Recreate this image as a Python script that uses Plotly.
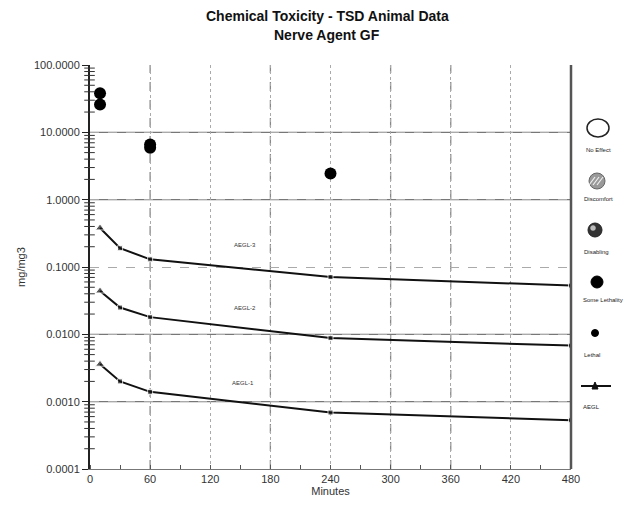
import math
import plotly.graph_objects as go

# ---- data ----
aegl_minutes = [10, 30, 60, 240, 480]
aegl3 = [0.38, 0.19, 0.13, 0.071, 0.053]
aegl2 = [0.044, 0.025, 0.018, 0.0088, 0.0068]
aegl1 = [0.0036, 0.0020, 0.0014, 0.00069, 0.00053]

lethality_minutes = [10, 10, 60, 60, 240]
lethality_values = [38, 26, 6.6, 5.9, 2.45]

aegl_labels = ["AEGL-3", "AEGL-2", "AEGL-1"]
aegl_label_x = [155, 155, 153]
aegl_label_y = [0.21, 0.025, 0.0019]

x_ticks = [0, 60, 120, 180, 240, 300, 360, 420, 480]
y_ticks = [0.0001, 0.001, 0.01, 0.1, 1, 10, 100]
y_tick_text = ["0.0001", "0.0010", "0.0100", "0.1000", "1.0000", "10.0000", "100.0000"]
y_minor = [m * 10 ** e for e in range(-4, 2) for m in range(2, 10)]

legend_labels = ["No Effect", "Discomfort", "Disabling", "Some Lethality", "Lethal", "AEGL"]

# ---- figure ----
W, H = 637, 515
L, R, T, B = 90, 66, 65, 46
PW, PH = W - L - R, H - T - B

def px(xp):
    return (xp - L) / PW

def py(yp):
    return (H - B - yp) / PH

fig = go.Figure()

for vals in [aegl3, aegl2, aegl1]:
    fig.add_trace(go.Scatter(
        x=aegl_minutes, y=vals, mode="lines+markers",
        line=dict(color="#111", width=2),
        marker=dict(symbol=["triangle-up", "square", "square", "square", "square"],
                    size=[8, 5, 5, 5, 5], color="#111"),
        showlegend=False, hoverinfo="x+y"))

fig.add_trace(go.Scatter(
    x=lethality_minutes, y=lethality_values, mode="markers",
    marker=dict(symbol="circle", size=12, color="#000"),
    showlegend=False))

annotations = []
for lab, lx, ly in zip(aegl_labels, aegl_label_x, aegl_label_y):
    annotations.append(dict(x=lx, y=math.log10(ly), xref="x", yref="y",
                            text=lab, showarrow=False,
                            font=dict(size=6, color="#333", family="Liberation Sans")))

# title as two centered lines
for txt, yy in [("Chemical Toxicity - TSD Animal Data", 16), ("Nerve Agent GF", 35)]:
    annotations.append(dict(x=px(327), y=py(yy), xref="paper", yref="paper", text=f"<b>{txt}</b>",
                            showarrow=False, xanchor="center", yanchor="middle",
                            font=dict(size=14, color="#111",
                                      family="Liberation Sans Narrow, Arial Narrow, Liberation Sans")))

shapes = []
# extra dashed/solid gridlines to mimic the scanned chart
for xv in [60, 180, 300, 360]:
    shapes.append(dict(type="line", xref="x", yref="paper", x0=xv, x1=xv, y0=0, y1=1,
                       line=dict(color="#888", width=1.3, dash="dash"), layer="below"))
for yv in [10, 1, 0.01, 0.001]:
    shapes.append(dict(type="line", xref="paper", yref="y", x0=0, x1=1,
                       y0=yv, y1=yv,
                       line=dict(color="#777", width=1.3), layer="below"))
# minor ticks across the y axis
for mv in y_minor:
    shapes.append(dict(type="line", xref="paper", yref="y", x0=-0.012, x1=0.01,
                       y0=mv, y1=mv,
                       line=dict(color="#333", width=1)))
# right border
shapes.append(dict(type="line", xref="paper", yref="paper", x0=1, x1=1, y0=0, y1=1,
                   line=dict(color="#555", width=2.5)))

# ---- custom legend (right side) ----
def circle(cx, cy, rx, ry, fill, line_color="#222", lw=1.5):
    shapes.append(dict(type="circle", xref="paper", yref="paper",
                       x0=px(cx - rx), x1=px(cx + rx), y0=py(cy + ry), y1=py(cy - ry),
                       fillcolor=fill, line=dict(color=line_color, width=lw)))

circle(598, 128, 11, 9, "rgba(0,0,0,0)", "#222", 1.5)
circle(597, 181, 8, 8, "#999", "#666", 1)
for d in [-4, 0, 4]:
    shapes.append(dict(type="line", xref="paper", yref="paper",
                       x0=px(597 - 4 + d), x1=px(597 + 2 + d), y0=py(185), y1=py(177),
                       line=dict(color="#eee", width=1.2)))
circle(595, 230, 7, 7, "#333", "#222", 1)
circle(593, 228, 2.5, 2.5, "#bbb", "#bbb", 0.5)
circle(597, 282, 6, 6, "#000", "#000", 1)
circle(595, 333, 3.5, 3.5, "#000", "#000", 1)
shapes.append(dict(type="line", xref="paper", yref="paper",
                   x0=px(581), x1=px(611), y0=py(386), y1=py(386),
                   line=dict(color="#111", width=2)))
shapes.append(dict(type="path", xref="paper", yref="paper",
                   path=f"M {px(592)} {py(389)} L {px(598)} {py(389)} L {px(595)} {py(382)} Z",
                   fillcolor="#111", line=dict(color="#111", width=1)))

legend_label_y = [150, 199, 252, 300, 355, 407]
legend_label_x = [598, 598, 596, 603, 592, 591]
for lab, lx, ly in zip(legend_labels, legend_label_x, legend_label_y):
    annotations.append(dict(x=px(lx), y=py(ly), xref="paper", yref="paper", text=lab,
                            showarrow=False, xanchor="center", yanchor="middle",
                            font=dict(size=6, color="#222", family="Liberation Sans")))

fig.update_layout(
    width=W, height=H,
    margin=dict(l=L, r=R, t=T, b=B),
    paper_bgcolor="white", plot_bgcolor="white",
    font=dict(family="Liberation Sans", color="#333", size=11),
    xaxis=dict(range=[0, 480], tickvals=x_ticks, ticktext=[str(v) for v in x_ticks],
               showgrid=True, gridcolor="#aaa", griddash="dot", gridwidth=1,
               showline=True, linecolor="#777", linewidth=1,
               ticks="", zeroline=False,
               minor=dict(dtick=30, ticks="inside", ticklen=4, tickcolor="#555"),
               title=dict(text="Minutes", font=dict(size=11), standoff=2),
               tickfont=dict(size=11)),
    yaxis=dict(type="log", range=[-4, 2], tickvals=y_ticks, ticktext=y_tick_text,
               showgrid=True, gridcolor="#aaa", griddash="dash", gridwidth=1,
               showline=True, linecolor="#222", linewidth=2,
               ticks="outside", ticklen=6, tickcolor="#222",
               title=dict(text="mg/mg3", font=dict(size=11), standoff=6),
               tickfont=dict(size=11)),
    shapes=shapes, annotations=annotations,
)

fig.write_html("out.html")
